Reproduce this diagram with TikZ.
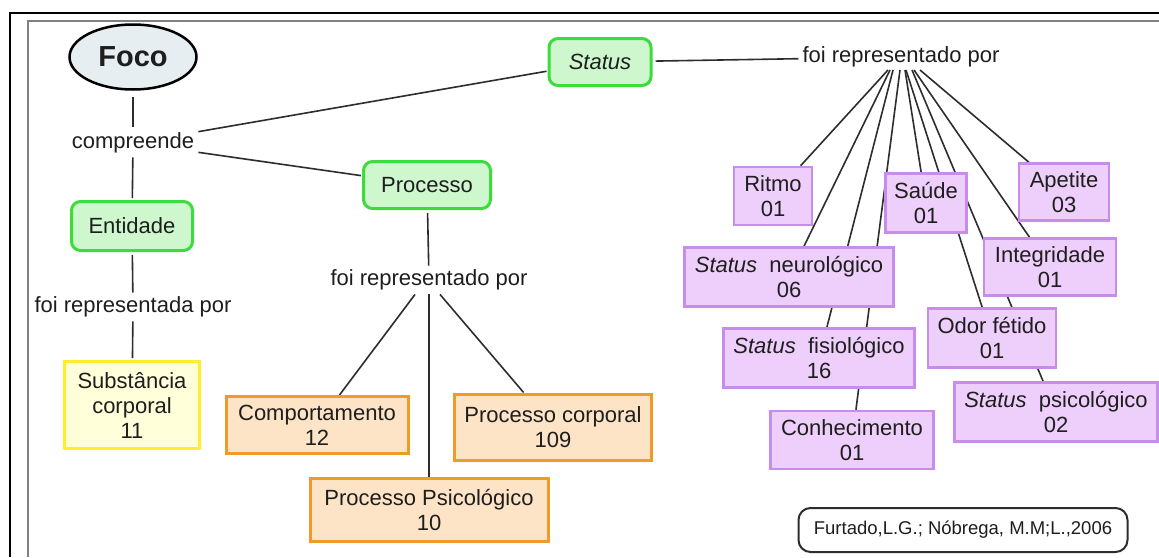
\documentclass[tikz,border=0pt]{standalone}
\usepackage{fontspec}
\setmainfont{Liberation Sans}
\usetikzlibrary{backgrounds,shapes.geometric}
\definecolor{gfill}{RGB}{206,247,206}
\definecolor{gline}{RGB}{60,220,60}
\definecolor{pfill}{RGB}{238,206,250}
\definecolor{pline}{RGB}{200,140,235}
\definecolor{ofill}{RGB}{253,228,198}
\definecolor{oline}{RGB}{240,155,40}
\definecolor{yfill}{RGB}{255,255,218}
\definecolor{yline}{RGB}{255,238,40}
\definecolor{efill}{RGB}{230,238,242}
\definecolor{cline}{RGB}{45,45,45}
\definecolor{txt}{RGB}{30,30,30}
\begin{document}
\begin{tikzpicture}[x=1pt,y=-1pt,
  every node/.style={font=\fontsize{22}{25}\selectfont, align=center, text=txt},
  lbl/.style={inner sep=4pt},
  gbox/.style={draw=gline, fill=gfill, line width=3pt, rounded corners=9pt, inner sep=0pt},
  pbox/.style={draw=pline, fill=pfill, line width=2.5pt, inner sep=0pt},
  obox/.style={draw=oline, fill=ofill, line width=3pt, inner sep=0pt},
  ybox/.style={draw=yline, fill=yfill, line width=3pt, inner sep=0pt},
  conn/.style={draw=cline, line width=1.6pt}
]
\useasboundingbox (0,0) rectangle (1159,557);

% frame
\draw[line width=2.5pt] (10,557) -- (10,13) -- (1159,13);
\draw[gray, line width=1.5pt] (28,557) -- (28,21) -- (1159,21);

% left branch
\node[ellipse, draw=black, fill=efill, line width=2.5pt, minimum width=127pt, minimum height=65pt, inner sep=0pt,
      font=\fontsize{29}{30}\selectfont\bfseries] (foco) at (133,57) {Foco};
\node[lbl] (comp) at (133,143) {compreende};
\node[gbox, minimum width=121pt, minimum height=49pt] (ent) at (132,226) {Entidade};
\node[lbl] (frpa) at (133,307) {foi representada por};
\node[ybox, minimum width=135pt, minimum height=87pt] (subst) at (132,405) {Substância\\corporal\\11};

% middle branch
\node[gbox, minimum width=102pt, minimum height=47pt] (status) at (600,62) {\itshape Status};
\node[gbox, minimum width=127pt, minimum height=47pt] (proc) at (427,185) {Processo};
\node[lbl] (frp1) at (429,280) {foi representado por};
\node[obox, minimum width=182pt, minimum height=57pt] (comport) at (317,425) {Comportamento\\12};
\node[obox, minimum width=197pt, minimum height=66pt] (pcorp) at (553,427) {Processo corporal\\109};
\node[obox, minimum width=238pt, minimum height=63pt] (ppsic) at (429,510) {Processo Psicológico\\10};

% right branch
\node[lbl] (frp2) at (901,57) {foi representado por};
\coordinate (fan) at (903,70);
\node[pbox, minimum width=78pt, minimum height=58pt] (ritmo) at (773,196) {Ritmo\\01};
\node[pbox, minimum width=81pt, minimum height=59pt] (saude) at (926,203) {Saúde\\01};
\node[pbox, minimum width=90pt, minimum height=57pt] (apet) at (1064,192) {Apetite\\03};
\node[pbox, minimum width=209pt, minimum height=59pt] (neuro) at (789,277) {\textit{Status}\ \ neurológico\\06};
\node[pbox, minimum width=132pt, minimum height=57pt] (integ) at (1050,267) {Integridade\\01};
\node[pbox, minimum width=128pt, minimum height=59pt] (odor) at (992,338) {Odor fétido\\01};
\node[pbox, minimum width=191pt, minimum height=59pt] (fisio) at (819,358) {\textit{Status}\ \ fisiológico\\16};
\node[pbox, minimum width=203pt, minimum height=59pt] (psico) at (1056,412) {\textit{Status}\ \ psicológico\\02};
\node[pbox, minimum width=163pt, minimum height=58pt] (conh) at (852,440) {Conhecimento\\01};

% citation
\node[draw=cline, line width=2pt, rounded corners=12pt, minimum width=329pt, minimum height=44pt, inner sep=0pt,
      font=\fontsize{18.5}{20}\selectfont] (cite) at (963,530) {Furtado,L.G.; Nóbrega, M.M;L.,2006};

\begin{pgfonlayer}{background}
  \fill[white] (0,0) rectangle (1159,557);
  \draw[conn, shorten <=6pt, shorten >=2pt] (foco) -- (comp);
  \draw[conn, shorten >=2pt] (comp) -- (ent);
  \draw[conn, shorten <=3pt] (ent) -- (frpa);
  \draw[conn, shorten >=2pt] (frpa) -- (subst);
  \draw[conn, shorten >=1pt] (comp) -- (status);
  \draw[conn, shorten >=1pt] (comp) -- (proc);
  \draw[conn, shorten <=3pt] (proc) -- (frp1);
  \draw[conn] ([xshift=-14pt]frp1.south) -- (comport);
  \draw[conn] (frp1.south) -- (ppsic);
  \draw[conn] ([xshift=11pt]frp1.south) -- (pcorp);
  \draw[conn, shorten <=3pt] (status) -- (frp2);
  \draw[conn] ([xshift=-15pt]fan) -- (ritmo);
  \draw[conn] ([xshift=-13pt]fan) -- (neuro);
  \draw[conn] ([xshift=-10pt]fan) -- (fisio);
  \draw[conn] ([xshift=-3pt]fan) -- (conh);
  \draw[conn] ([xshift=2pt]fan) -- (saude);
  \draw[conn] ([xshift=3pt]fan) -- (odor);
  \draw[conn] ([xshift=9pt]fan) -- (psico);
  \draw[conn] ([xshift=11pt]fan) -- (integ);
  \draw[conn] ([xshift=17pt]fan) -- (apet);
\end{pgfonlayer}
\end{tikzpicture}
\end{document}
